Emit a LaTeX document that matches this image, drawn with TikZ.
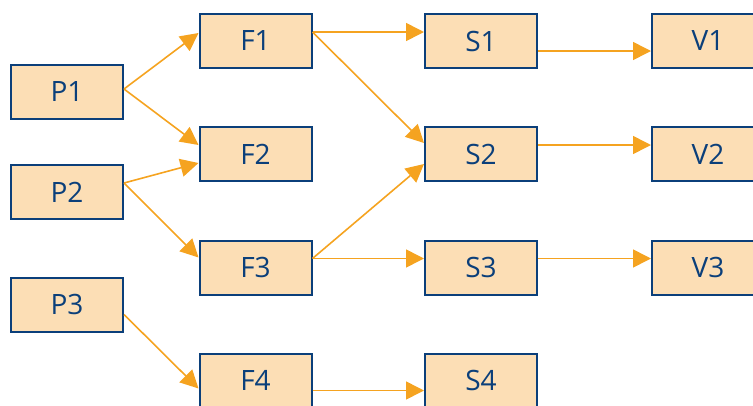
\documentclass[tikz,border=0pt]{standalone}
\usepackage{fontspec}
\setmainfont{Open Sans}
\usetikzlibrary{arrows.meta,calc}

\definecolor{boxfill}{HTML}{FCDEB5}
\definecolor{boxline}{HTML}{0B3F7A}
\definecolor{flow}{HTML}{F5A320}

\begin{document}
\begin{tikzpicture}
[x=1pt, y=-1pt, font=\fontsize{28}{32}\selectfont,
stage/.style={rectangle, draw=boxline, fill=boxfill, text=boxline,
    line width=2pt, minimum width=112pt, minimum height=54pt, inner sep=0pt},
flowline/.style={draw=flow, line width=1.6pt,
    -{Triangle[length=18pt,width=18pt]}}]

\useasboundingbox (0,0) rectangle (753,405);

\node[stage] (P1) at (67, 92) {P1};
\node[stage] (P2) at (67, 192) {P2};
\node[stage] (P3) at (67, 304.5) {P3};

\foreach \i/\y in {1/41, 2/154, 3/267.5, 4/380.5} {
    \node[stage] (F\i) at (255.5, \y) {F\i};
    \node[stage] (S\i) at (481, \y) {S\i};
}
\foreach \i/\y in {1/41, 2/154, 3/267.5} {
    \node[stage] (V\i) at (708, \y) {V\i};
}

\draw[flowline] ($(P1.east)+(0,-3)$) -- ($(F1.west)+(0,-8)$);
\draw[flowline] ($(P1.east)+(0,-3)$) -- ($(F2.west)+(0,-9)$);
\draw[flowline] ($(P2.east)+(0,-9)$) -- ($(F2.west)+(0,9)$);
\draw[flowline] ($(P2.east)+(0,-9)$) -- ($(F3.west)+(0,-10)$);
\draw[flowline] ($(P3.east)+(0,10)$) -- ($(F4.west)+(0,8)$);

\draw[flowline] ($(F1.east)+(0,-9)$) -- ($(S1.west)+(0,-9)$);
\draw[flowline] ($(F1.east)+(0,-9)$) -- ($(S2.west)+(0,-11)$);
\draw[flowline] ($(F3.east)+(0,-9)$) -- ($(S2.west)+(0,10)$);
\draw[flowline] ($(F3.east)+(0,-9)$) -- ($(S3.west)+(0,-9)$);
\draw[flowline] ($(F4.east)+(0,10)$) -- ($(S4.west)+(0,10)$);

\draw[flowline] ($(S1.east)+(0,10)$) -- ($(V1.west)+(0,10)$);
\draw[flowline] ($(S2.east)+(0,-9)$) -- ($(V2.west)+(0,-9)$);
\draw[flowline] ($(S3.east)+(0,-9)$) -- ($(V3.west)+(0,-9)$);

\end{tikzpicture}
\end{document}
